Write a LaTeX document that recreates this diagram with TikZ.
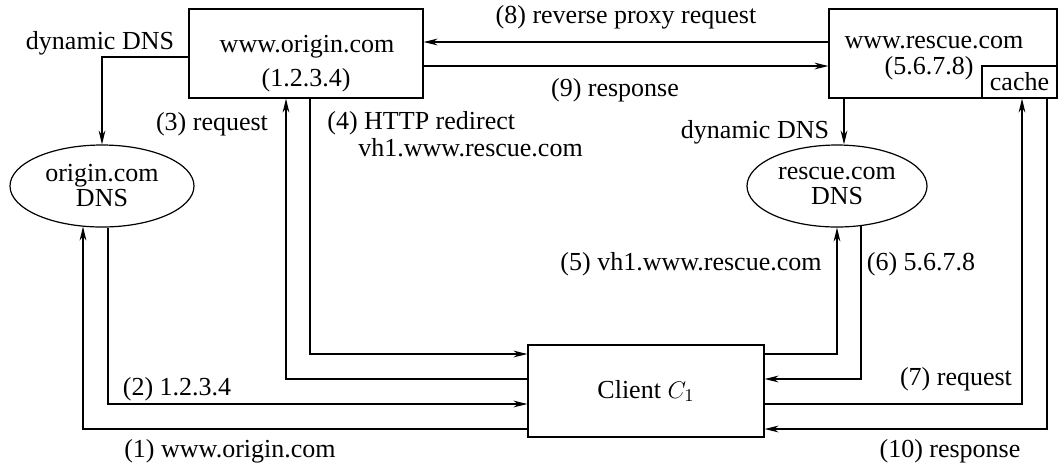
\documentclass[tikz,border=0pt]{standalone}
\usepackage{fontspec}
\setmainfont{Liberation Serif}
\usetikzlibrary{arrows.meta,shapes.geometric,calc}
\begin{document}
\begin{tikzpicture}[x=0.5pt,y=-0.5pt,
  font=\fontsize{13}{12.5}\selectfont,
  box/.style={draw,line width=0.6pt,inner sep=0pt},
  dns/.style={draw,ellipse,line width=0.6pt,inner sep=0pt,align=center},
  lbl/.style={inner sep=0pt},
  arr/.style={line width=0.6pt,-{Stealth[length=7pt,width=3.4pt]}}]
\useasboundingbox (0,0) rectangle (1060,463);
% boxes
\node[box,minimum width=117pt,minimum height=44.5pt] (orig) at (306,53.5) {};
\node[lbl] (origt1) at (307,47) {www.origin.com};
\node[lbl] (origt2) at (306,80) {(1.2.3.4)};
\node[box,minimum width=114pt,minimum height=44.5pt] (resc) at (943,53.5) {};
\node[lbl] (resct1) at (934,43) {www.rescue.com};
\node[lbl] (resct2) at (929,68) {(5.6.7.8)};
\node[box,minimum width=37.5pt,minimum height=16pt] (cache) at (1019.5,82) {cache};
\node[box,minimum width=118pt,minimum height=46pt] (client) at (646,391) {Client $C_1$};
% DNS servers
\node[dns,minimum width=92pt,minimum height=41pt] (odns) at (102,186) {origin.com\\DNS};
\node[dns,minimum width=90pt,minimum height=41pt] (rdns) at (837,186) {rescue.com\\DNS};
% connectors
\draw[arr] (orig.west |- 0,57) -| (odns.north);
\draw[arr] (resc.south -| 844,0) -- (rdns.north -| 844,0);
\draw[arr] (resc.west |- 0,42) -- (orig.east |- 0,42);
\draw[arr] (orig.east |- 0,66) -- (resc.west |- 0,66);
\draw[arr] (client.west |- 0,379) -| (orig.south -| 286,0);
\draw[arr] (orig.south -| 310,0) |- (client.west |- 0,354);
\draw[arr] (client.west |- 0,429) -| ($(odns.south)+(-19,-1)$);
\draw[arr] ($(odns.south)+(6,0)$) |- (client.west |- 0,404);
\draw[arr] (client.east |- 0,354) -| (rdns.south);
\draw[arr] ($(rdns.south)+(24,-1.5)$) |- (client.east |- 0,379);
\draw[arr] (client.east |- 0,404) -| (cache.south -| 1022,0);
\draw[arr] (cache.south -| 1047,0) |- (client.east |- 0,429);
% labels
\node[lbl] (ldyn1) at (100,43) {dynamic DNS};
\node[lbl] (ldyn2) at (755,132) {dynamic DNS};
\node[lbl] (l8) at (626,17) {(8) reverse proxy request};
\node[lbl] (l9) at (615,90) {(9) response};
\node[lbl] (l3) at (212,124) {(3) request};
\node[lbl,anchor=west] (l4a) at (327,123) {(4) HTTP redirect};
\node[lbl,anchor=west] (l4b) at (358,148) {vh1.www.rescue.com};
\node[lbl] (l5) at (691,264) {(5) vh1.www.rescue.com};
\node[lbl] (l6) at (921,264) {(6) 5.6.7.8};
\node[lbl] (l7) at (956,379) {(7) request};
\node[lbl] (l2) at (177,389) {(2) 1.2.3.4};
\node[lbl] (l1) at (230,451) {(1) www.origin.com};
\node[lbl] (l10) at (950,451) {(10) response};
\end{tikzpicture}
\end{document}
